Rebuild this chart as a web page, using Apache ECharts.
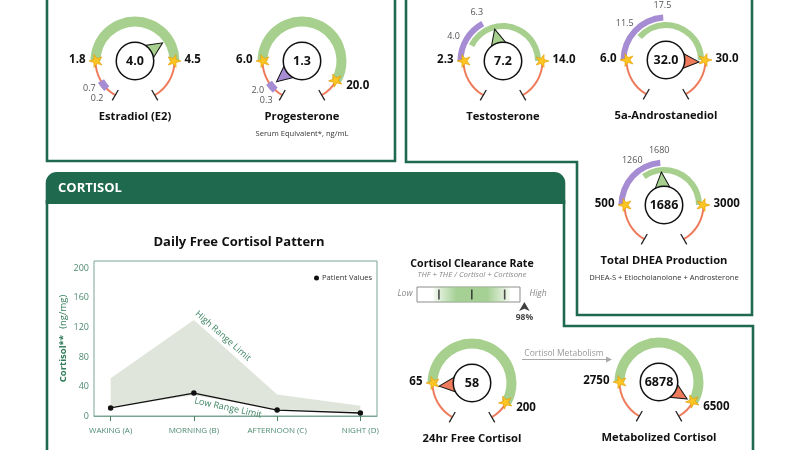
<!DOCTYPE html>
<html lang="en">
<head>
<meta charset="UTF-8">
<title>Hormones and cortisol</title>
<script src="https://cdn.jsdelivr.net/npm/echarts@6/dist/echarts.min.js"></script>
<style>
    html, body {margin: 0; padding: 0; background: #fff;}
    #chart {width: 800px; height: 450px;}
</style>
</head>
<body>
<div id="chart"></div>
<script>
    // ---- dial data ----
    var dialNames = ['Estradiol (E2)', 'Progesterone', 'Testosterone', '5a-Androstanediol',
        'Total DHEA Production', '24hr Free Cortisol', 'Metabolized Cortisol'];
    var dialValues = [4.0, 1.3, 7.2, 32.0, 1686, 58, 6878];
    var rangeLow = [1.8, 6.0, 2.3, 6.0, 500, 65, 2750];
    var rangeHigh = [4.5, 20.0, 14.0, 30.0, 3000, 200, 6500];
    var subRanges = [null, null, [4.0, 6.3], [11.5, 17.5], [1260, 1680], null, null];
    var lowMarkers = [[0.7, 0.2], [2.0, 0.3], null, null, null, null, null];
    var decimals = [1, 1, 1, 1, 0, 0, 0];
    var dialNotes = ['', 'Serum Equivalent*, ng/mL', '', '', 'DHEA-S + Etiocholanolone + Androsterone', '', ''];

    // ---- cortisol pattern data ----
    var timePoints = ['WAKING (A)', 'MORNING (B)', 'AFTERNOON (C)', 'NIGHT (D)'];
    var patientCortisol = [11, 31, 8, 4];
    var lowLimit = [12, 28, 9, 6];
    var highLimit = [51, 130, 29, 14];
    var cortisolTicks = [0, 40, 80, 120, 160, 200];

    // ---- clearance rate ----
    var clearanceValue = 98;
    var clearanceTicks = [20, 50, 80];
    var clearanceRef = [15, 85];

    var FONT = 'Open Sans';
    var DARK = '#1f6a4f';
    var GREEN = '#a7d08f', PURPLE = '#a68dd3', ORANGE = '#ee7b5b', STAR = '#fbc523';
    var STAR_PATH = 'path://M50,0 L61.8,35.3 L98.9,35.3 L68.8,57.1 L80.3,92.4 L50,70.6 L19.7,92.4 L31.2,57.1 L1.1,35.3 L38.2,35.3 Z';

    // where each dial sits and where its green arc ends
    var dialCenter = [[135, 61], [302, 61], [503, 61], [666, 60], [664, 205], [472, 383], [659, 382]];
    var arcEnd = [0, -30, 0, 0, 0, -30, -30];

    // dial scale: 0..low -> 230..180 deg, low..high -> 180..arcEnd, high..2*high -> arcEnd..-50
    function dialAngle(i, v) {
        var lo = rangeLow[i], hi = rangeHigh[i], a0 = 180, a1 = arcEnd[i];
        if (v < lo) return 230 + (a0 - 230) * v / lo;
        if (v > hi) return a1 + (-50 - a1) * Math.min((v - hi) / hi, 1);
        return a0 + (a1 - a0) * (v - lo) / (hi - lo);
    }
    function zoneColor(i, v) {
        if (v >= rangeLow[i] && v <= rangeHigh[i]) return GREEN;
        var m = lowMarkers[i];
        if (m && v <= m[0] && v >= m[1]) return PURPLE;
        return ORANGE;
    }
    function fmt(i, v) { return v.toFixed(decimals[i]); }
    function polar(c, r, a) {
        return [c[0] + r * Math.cos(a * Math.PI / 180), c[1] - r * Math.sin(a * Math.PI / 180)];
    }

    function baseGauge(c, r, z) {
        return {
            type: 'gauge', center: c, radius: r, z: z, silent: true,
            startAngle: 240, endAngle: -60, min: 0, max: 300,
            axisLine: {show: false, lineStyle: {width: 0}},
            axisTick: {show: false}, splitLine: {show: false}, axisLabel: {show: false},
            pointer: {show: false}, anchor: {show: false}, title: {show: false}, detail: {show: false},
            data: [{value: 0}]
        };
    }
    function arc(c, r, w, from, to, color) {
        var s = baseGauge(c, r, 2);
        s.startAngle = from;
        s.endAngle = to;
        s.axisLine = {show: true, lineStyle: {width: w, color: [[1, color]]}};
        return s;
    }

    var series = [];
    var graphics = [];
    function label(text, x, y, o) {
        o = o || {};
        graphics.push({
            type: 'text', x: x, y: y, z: 20, silent: true, rotation: o.rot || 0,
            style: {
                text: text, fill: o.color || '#111', fontSize: o.size || 12,
                fontWeight: o.weight || 'normal', fontStyle: o.italic ? 'italic' : 'normal',
                fontFamily: FONT, align: o.align || 'center', verticalAlign: 'middle'
            }
        });
    }
    function line(points, color, width) {
        graphics.push({
            type: 'polyline', z: 1, silent: true, shape: {points: points},
            style: {stroke: color || DARK, lineWidth: width || 2.6, fill: null}
        });
    }

    // ---- dials ----
    dialNames.forEach(function (name, i) {
        var c = dialCenter[i], a0 = 180, a1 = arcEnd[i];
        var sub = subRanges[i], mk = lowMarkers[i], v = dialValues[i];

        series.push(arc(c, 40.5, 2, 240, a0, ORANGE));
        series.push(arc(c, 40.5, 2, a1, -60, ORANGE));
        if (sub) {
            series.push(arc(c, 45.5, 6, a0, dialAngle(i, sub[1]), PURPLE));
            series.push(arc(c, 38, 6, dialAngle(i, sub[0]), a1, GREEN));
            sub.forEach(function (s) {
                var p = polar(c, 55, dialAngle(i, s));
                label(fmt(i, s), p[0], p[1], {size: 9, color: '#555'});
            });
        } else {
            series.push(arc(c, 44.5, 10, a0, a1, GREEN));
        }
        if (mk) {
            series.push(arc(c, 43, 7, dialAngle(i, mk[1]), dialAngle(i, mk[0]), PURPLE));
            mk.forEach(function (s) {
                var p = polar(c, 53, dialAngle(i, s));
                label(s.toFixed(1), p[0], p[1], {size: 9, color: '#555'});
            });
        }

        // end ticks
        var t = baseGauge(c, 45.5, 3);
        t.splitNumber = 1;
        t.splitLine = {show: true, length: 12, distance: 0, lineStyle: {color: '#222', width: 1.3}};
        series.push(t);

        // stars on range limits
        var st = baseGauge(c, 40, 4);
        st.pointer = {
            show: true, showAbove: false, icon: STAR_PATH, length: 13, width: 13, offsetCenter: [0, -33],
            itemStyle: {color: STAR, borderColor: '#e39a00', borderWidth: 0.6}
        };
        st.data = [{value: 240 - a0}, {value: 240 - a1}];
        series.push(st);

        // patient value
        var p = baseGauge(c, 40, 5);
        p.pointer = {
            show: true, showAbove: false, icon: 'triangle', length: 16, width: 15, offsetCenter: [0, -17],
            itemStyle: {color: zoneColor(i, v), borderColor: '#111', borderWidth: 1}
        };
        p.detail = {
            show: true, offsetCenter: [0, 0], width: 36, height: 36, lineHeight: 36, borderRadius: 18,
            padding: 0, borderWidth: 1.5, borderColor: '#111', backgroundColor: '#fff', color: '#111',
            fontSize: 12.5, fontWeight: 'bold', fontFamily: FONT, valueAnimation: false,
            formatter: function () { return fmt(i, v); }
        };
        p.data = [{value: 240 - dialAngle(i, v)}];
        series.push(p);

        // range labels beside the stars
        [a0, a1].forEach(function (a, k) {
            var q = polar(c, 39.5, a);
            var left = Math.cos(a * Math.PI / 180) < 0;
            label(fmt(i, k ? rangeHigh[i] : rangeLow[i]), q[0] + (left ? -10 : 10), q[1] + (a < -10 ? 5 : -1),
                {size: 11.5, weight: 'bold', align: left ? 'right' : 'left'});
        });

        label(name, c[0], c[1] + 56, {size: 11.2, weight: 'bold'});
        if (dialNotes[i]) label(dialNotes[i], c[0], c[1] + 73, {size: 7.6, color: '#333'});
    });

    // ---- panels ----
    line([[47, -5], [47, 161], [395, 161], [395, -5]]);
    line([[406, -5], [406, 162], [577, 162], [577, 315], [752, 315], [752, -5]]);
    line([[47, 200], [47, 460]]);
    line([[564, 200], [564, 326], [753, 326], [753, 460]]);
    graphics.push({
        type: 'rect', z: 2, silent: true,
        shape: {x: 45.7, y: 172, width: 519.6, height: 32, r: [11, 11, 0, 0]},
        style: {fill: DARK}
    });
    label('CORTISOL', 58, 188, {size: 13, weight: 'bold', color: '#fff', align: 'left'});

    // ---- cortisol pattern chart ----
    label('Daily Free Cortisol Pattern', 239, 242, {size: 13, weight: 'bold'});
    label('High Range Limit', 223, 336, {size: 9, color: '#3e8463', rot: -0.72});
    label('Low Range Limit', 228, 408, {size: 9, color: '#3e8463', rot: -0.21});

    // ---- clearance rate ----
    label('Cortisol Clearance Rate', 472, 264, {size: 10.6, weight: 'bold'});
    label('THF + THE / Cortisol + Cortisone', 472, 275, {size: 7.8, italic: true, color: '#888'});
    label('Low', 405, 294, {size: 8.5, italic: true, color: '#888'});
    label('High', 538, 294, {size: 8.5, italic: true, color: '#888'});

    // ---- metabolism arrow ----
    label('Cortisol Metabolism', 564, 354, {size: 8.5, color: '#999'});
    line([[522, 359.5], [607, 359.5]], '#aaa', 1);
    graphics.push({
        type: 'polygon', z: 2, silent: true,
        shape: {points: [[612, 359.5], [606, 356.5], [606, 362.5]]},
        style: {fill: '#aaa'}
    });

    var chart = echarts.init(document.getElementById('chart'));
    var option = {
        animation: false,
        backgroundColor: '#fff',
        textStyle: {fontFamily: FONT},
        legend: {
            data: ['Patient Values'], left: 309, top: 269, icon: 'circle',
            itemWidth: 5, itemHeight: 5, selectedMode: false,
            textStyle: {fontSize: 7.6, color: '#333', padding: [0, 0, 0, -2]}
        },
        grid: [
            {left: 94, top: 261, width: 283, height: 155, show: true, borderColor: '#7aa593', borderWidth: 1},
            {left: 417, top: 287, width: 103, height: 15, show: true, borderColor: '#8d8d8d', borderWidth: 1, backgroundColor: '#fff'}
        ],
        xAxis: [
            {
                type: 'value', gridIndex: 0, min: -0.2, max: 3.2,
                axisLine: {show: true, lineStyle: {color: '#7aa593'}},
                axisTick: {show: true, customValues: [0, 1, 2, 3], length: 5, lineStyle: {color: '#4d7f69'}},
                axisLabel: {
                    customValues: [0, 1, 2, 3], margin: 11, fontSize: 8, color: '#4d8a70',
                    formatter: function (v) { return timePoints[v]; }
                },
                splitLine: {show: false}
            },
            {type: 'value', gridIndex: 1, min: 0, max: 94, show: false}
        ],
        yAxis: [
            {
                type: 'value', gridIndex: 0, min: 0, max: 210, interval: 40,
                name: '{b|Cortisol**}  {n|(ng/mg)}', nameLocation: 'middle', nameGap: 25, nameRotate: 90,
                nameTextStyle: {
                    rich: {
                        b: {fontWeight: 'bold', color: '#2e7b58', fontSize: 9.5, fontFamily: FONT},
                        n: {color: '#2e7b58', fontSize: 9.5, fontFamily: FONT}
                    }
                },
                axisLine: {show: false},
                axisTick: {show: false},
                axisLabel: {
                    margin: 5, fontSize: 9, color: '#4d8a70', showMaxLabel: false,
                    formatter: function (v) { return cortisolTicks.indexOf(v) >= 0 ? v : ''; }
                },
                splitLine: {show: false}
            },
            {type: 'value', gridIndex: 1, min: 0, max: 1, show: false}
        ],
        graphic: graphics,
        series: series.concat([
            {
                // reference band between the low and high range limits
                name: 'range', type: 'custom', xAxisIndex: 0, yAxisIndex: 0, silent: true, z: 1,
                renderItem: function (params, api) {
                    var top = highLimit.map(function (v, i) { return api.coord([i, v]); });
                    var bottom = lowLimit.map(function (v, i) { return api.coord([i, v]); }).reverse();
                    return {type: 'polygon', shape: {points: top.concat(bottom)}, style: {fill: '#dfe5da'}};
                },
                data: [[0, 0]]
            },
            {
                name: 'Patient Values', type: 'line', xAxisIndex: 0, yAxisIndex: 0, silent: true,
                symbol: 'circle', symbolSize: 5.5, z: 5,
                itemStyle: {color: '#111'}, lineStyle: {color: '#111', width: 1.4},
                data: patientCortisol.map(function (v, i) { return [i, v]; })
            },
            {
                type: 'scatter', xAxisIndex: 1, yAxisIndex: 1, silent: true, z: 4,
                symbol: 'rect', symbolSize: [1.6, 10], itemStyle: {color: '#222'},
                data: clearanceTicks.map(function (t) { return [t, 0.5]; }),
                markArea: {
                    silent: true,
                    itemStyle: {
                        color: {
                            type: 'linear', x: 0, y: 0, x2: 1, y2: 0,
                            colorStops: [
                                {offset: 0, color: 'rgba(150,200,130,0.1)'},
                                {offset: 0.3, color: 'rgba(150,200,130,0.85)'},
                                {offset: 0.7, color: 'rgba(150,200,130,0.85)'},
                                {offset: 1, color: 'rgba(150,200,130,0.1)'}
                            ]
                        }
                    },
                    data: [[{xAxis: clearanceRef[0]}, {xAxis: clearanceRef[1]}]]
                }
            },
            {
                type: 'scatter', xAxisIndex: 1, yAxisIndex: 1, silent: true, clip: false, z: 5,
                symbol: 'arrow', symbolSize: [8, 9], itemStyle: {color: '#111'},
                data: [[clearanceValue, 0]],
                label: {
                    show: true, position: 'bottom', distance: 2, fontSize: 8.5, fontWeight: 'bold', color: '#111',
                    formatter: clearanceValue + '%'
                }
            }
        ])
    };
    chart.setOption(option);
</script>
</body>
</html>
